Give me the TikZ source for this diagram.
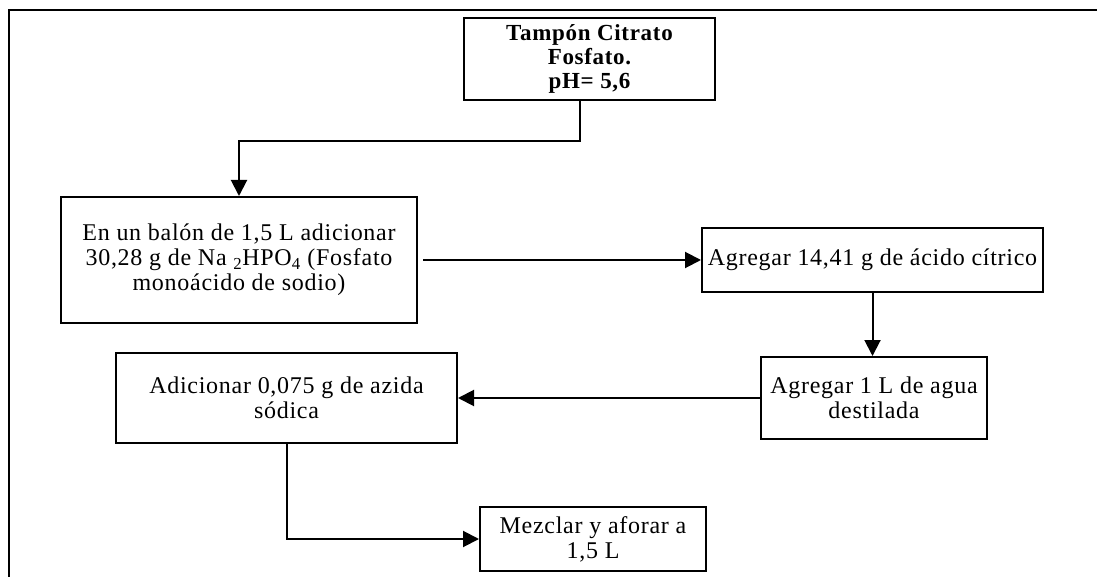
\documentclass[tikz,border=0pt]{standalone}
\usepackage{fontspec}
\usepackage{tikz}
\usetikzlibrary{arrows.meta}
\setmainfont{Liberation Serif}
\newfontfamily\cajafont[LetterSpace=3]{Liberation Serif}

\begin{document}
\begin{tikzpicture}[x=1pt,y=-1pt,
    caja/.style={draw,line width=2pt,align=center,inner sep=0pt,font=\cajafont\fontsize{24}{25}\selectfont},
    flecha/.style={line width=2pt,-{Triangle[length=16pt,width=16pt]}}]
    \useasboundingbox (0,0) rectangle (1097,577);
    \draw[line width=2pt] (9,577) -- (9,10) -- (1097,10);

    \node[caja,minimum width=251pt,minimum height=82pt,font=\cajafont\bfseries\fontsize{23}{24}\selectfont] (tampon) at (589.5,59)
        {Tampón Citrato\\Fosfato.\\pH= 5,6};
    \node[caja,minimum width=356pt,minimum height=126pt] (balon) at (239,260)
        {En un balón de 1,5 L adicionar\\30,28 g de Na \textsubscript{2}HPO\textsubscript{4} (Fosfato\\monoácido de sodio)};
    \node[caja,minimum width=341pt,minimum height=64pt] (citrico) at (872.5,260)
        {Agregar 14,41 g de ácido cítrico};
    \node[caja,minimum width=226pt,minimum height=82pt] (agua) at (874,398)
        {Agregar 1 L de agua\\destilada};
    \node[caja,minimum width=341pt,minimum height=90pt] (azida) at (286.5,398)
        {Adicionar 0,075 g de azida\\sódica};
    \node[caja,minimum width=226pt,minimum height=64pt] (aforar) at (593,539)
        {Mezclar y aforar a\\1,5 L};

    \draw[flecha] ([xshift=-10pt]tampon.south) -- ++(0,40) -| (balon.north);
    \draw[flecha] ([xshift=5pt]balon.east) -- (citrico.west);
    \draw[flecha] (citrico.south) -- (citrico.south |- agua.north);
    \draw[flecha] (agua.west) -- (azida.east);
    \draw[flecha] (azida.south) |- (aforar.west);
\end{tikzpicture}
\end{document}
